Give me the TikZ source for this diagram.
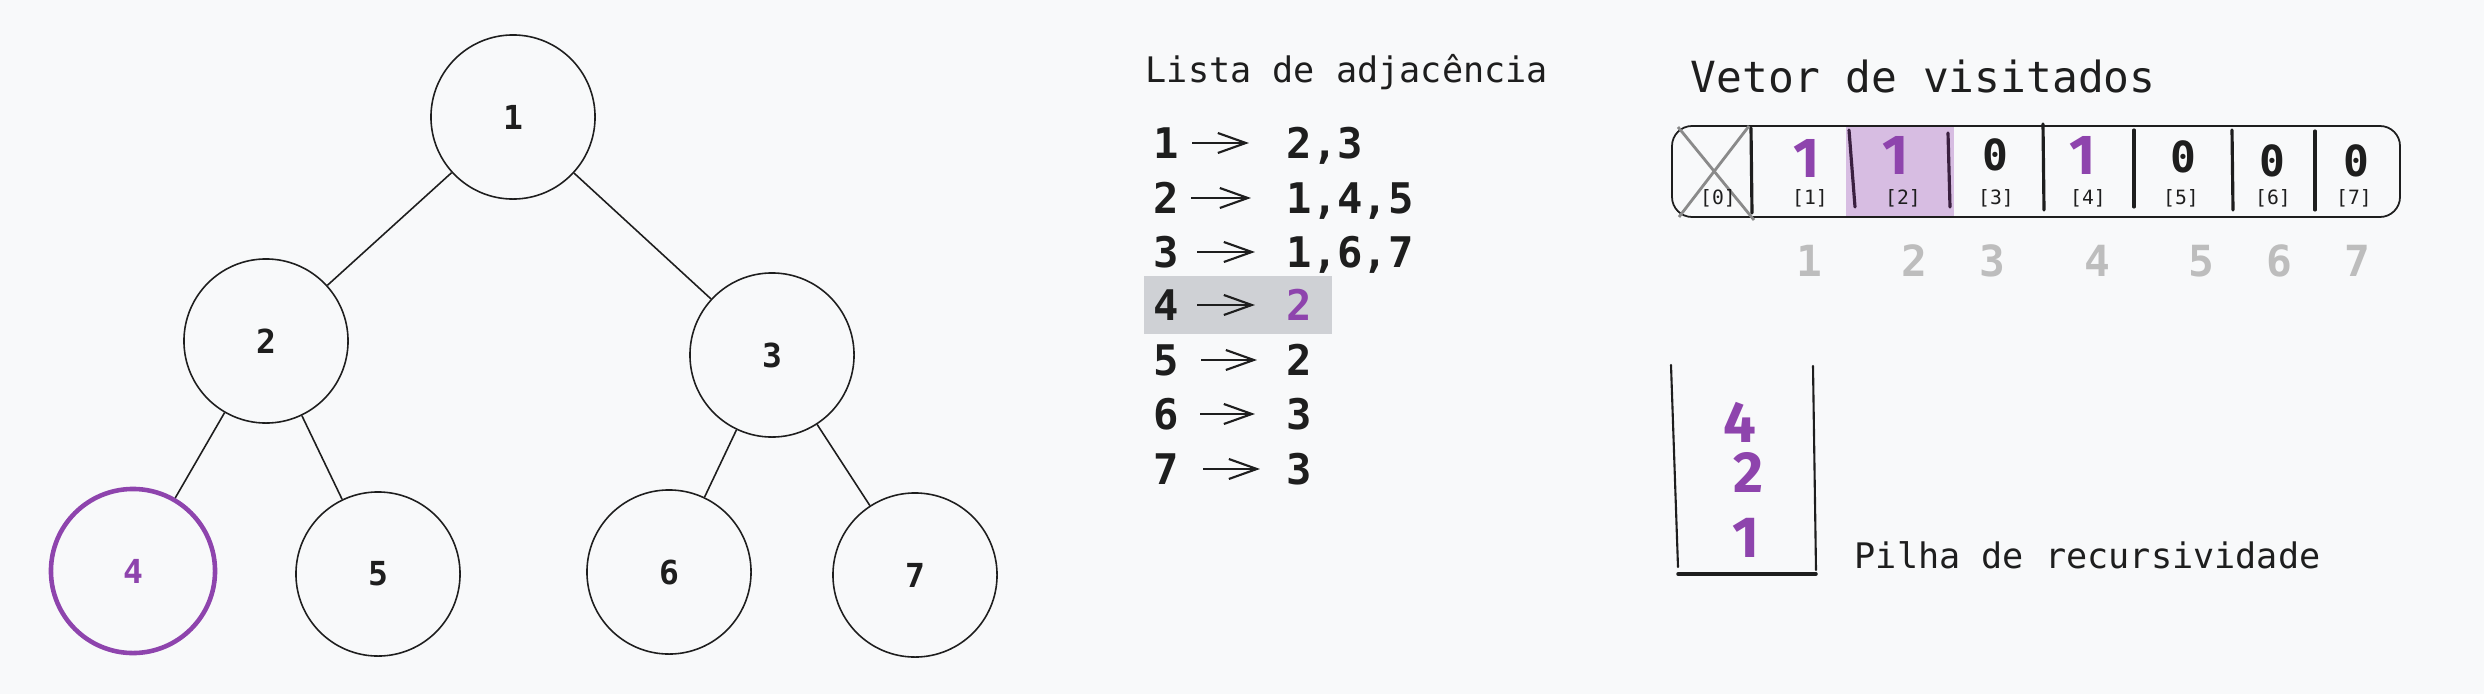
\documentclass[tikz,border=0pt]{standalone}
\usepackage{fontspec}
\setmonofont{DejaVu Sans Mono}
\newfontfamily\handfont{Fira Sans}
\usetikzlibrary{arrows.meta}
\definecolor{bg}{HTML}{F8F9FA}
\definecolor{ink}{HTML}{1E1E1E}
\definecolor{vio}{HTML}{8E44AD}
\definecolor{lvio}{HTML}{D7BDE2}
\definecolor{hlgray}{HTML}{CFD1D5}
\definecolor{numgray}{HTML}{BDBDBD}
\definecolor{crossgray}{HTML}{8A8A8A}
\definecolor{darkvio}{HTML}{3A2040}
\newcommand\myfs[1]{\fontsize{#1}{#1}\selectfont}
\tikzset{
  tnode/.style={circle, draw=ink, line width=0.45pt, minimum size=1.64cm, inner sep=0pt, font=\ttfamily\bfseries\myfs{9.4pt}, text=ink},
  tedge/.style={draw=ink, line width=0.45pt},
  lrow/.style={inner sep=0pt, text height=0.3cm, text depth=0pt, font=\ttfamily\bfseries\myfs{12pt}, text=ink},
  larr/.style={draw=ink, line width=0.6pt, -{Straight Barb[length=0.28cm, width=0.2cm, line width=0.6pt]}},
  divider/.style={draw=ink, line width=0.9pt, line cap=round},
  val/.style={inner sep=0pt, anchor=base, font=\ttfamily\bfseries\myfs{12.2pt}, text=ink},
  hval/.style={inner sep=0pt, anchor=base, font=\handfont\bfseries\myfs{16pt}, text=vio},
  idx/.style={inner sep=0pt, anchor=center, font=\ttfamily\myfs{5.6pt}, text=ink},
  gnum/.style={inner sep=0pt, anchor=base, font=\ttfamily\bfseries\myfs{12.2pt}, text=numgray},
  title/.style={inner sep=0pt, anchor=base west, text=ink},
}
\begin{document}
\begin{tikzpicture}[x=0.01cm, y=-0.01cm]
\fill[bg] (0,0) rectangle (2484,694);
\useasboundingbox (0,0) rectangle (2484,694);

% ---------- tree ----------
\node[tnode] (n1) at (513,117) {1};
\node[tnode] (n2) at (266,341) {2};
\node[tnode] (n3) at (772,355) {3};
\node[tnode, draw=vio, line width=1.3pt, text=vio] (n4) at (133,571) {4};
\node[tnode] (n5) at (378,574) {5};
\node[tnode] (n6) at (669,572) {6};
\node[tnode] (n7) at (915,575) {7};
\draw[tedge] (n1) -- (n2);
\draw[tedge] (n1) -- (n3);
\draw[tedge] (n2) -- (n4);
\draw[tedge] (n2) -- (n5);
\draw[tedge] (n3) -- (n6);
\draw[tedge] (n3) -- (n7);

% ---------- adjacency list ----------
\fill[hlgray] (1144,276) rectangle (1332,334);
\node[title, font=\ttfamily\myfs{10pt}] (ltitle) at (1145,82) {Lista de adjacência};
\foreach \i/\y/\r in {1/158/{2,3}, 2/213/{1,4,5}, 3/267/{1,6,7}, 5/375/2, 6/429/3, 7/484/3} {
  \node[lrow, anchor=base] (L\i) at (1166,\y) {\i};
  \node[lrow, anchor=base west] (R\i) at (1286,\y) {\r};
}
\node[lrow, anchor=base] (L4) at (1166,320) {4};
\node[lrow, anchor=base west, text=vio] (R4) at (1286,320) {2};
\draw[larr, shorten <=0.13cm, shorten >=0.37cm] (L1.east) -- (R1.west);
\draw[larr, shorten <=0.12cm, shorten >=0.35cm] (L2.east) -- (R2.west);
\draw[larr, shorten <=0.18cm, shorten >=0.31cm] (L3.east) -- (R3.west);
\draw[larr, shorten <=0.18cm, shorten >=0.31cm] (L4.east) -- (R4.west);
\draw[larr, shorten <=0.22cm, shorten >=0.29cm] (L5.east) -- (R5.west);
\draw[larr, shorten <=0.21cm, shorten >=0.31cm] (L6.east) -- (R6.west);
\draw[larr, shorten <=0.24cm, shorten >=0.26cm] (L7.east) -- (R7.west);

% ---------- visited vector ----------
\node[title, font=\ttfamily\myfs{12.2pt}] (vtitle) at (1690,93) {Vetor de visitados};
\fill[lvio] (1846,127) rectangle (1954,216);
\draw[ink, line width=0.5pt, rounded corners=0.2cm] (1672,126) rectangle (2400,217);
\draw[crossgray, line width=0.8pt] (1678,127) -- (1754,220);
\draw[crossgray, line width=0.8pt] (1749,126) -- (1679,217);
\draw[divider] (1751,128) -- (1752,213);
\draw[divider, draw=darkvio] (1849,130) -- (1855,207);
\draw[divider, draw=darkvio] (1948,133) -- (1950,207);
\draw[divider] (2043,124) -- (2044,210);
\draw[divider] (2134,130) -- (2134,207);
\draw[divider] (2232,130) -- (2233,210);
\draw[divider] (2315,131) -- (2315,210);

\node[hval] (v1) at (1807,177) {1};
\node[hval] (v2) at (1896,174) {1};
\node[val]  (v3) at (1995,170) {0};
\node[hval] (v4) at (2083,174) {1};
\node[val]  (v5) at (2183,172) {0};
\node[val]  (v6) at (2272,176) {0};
\node[val]  (v7) at (2356,176) {0};

\node[idx] (i0) at (1718,198) {[0]};
\node[idx] (i1) at (1810,198) {[1]};
\node[idx] (i2) at (1903,198) {[2]};
\node[idx] (i3) at (1996,198) {[3]};
\node[idx] (i4) at (2088,198) {[4]};
\node[idx] (i5) at (2181,198) {[5]};
\node[idx] (i6) at (2273,198) {[6]};
\node[idx] (i7) at (2354,198) {[7]};

\node[gnum] (g1) at (1809,276) {1};
\node[gnum] (g2) at (1914,276) {2};
\node[gnum] (g3) at (1992,276) {3};
\node[gnum] (g4) at (2097,276) {4};
\node[gnum] (g5) at (2201,276) {5};
\node[gnum] (g6) at (2279,276) {6};
\node[gnum] (g7) at (2357,276) {7};

% ---------- stack ----------
\draw[ink, line width=0.6pt, line cap=round] (1671,365) -- (1678,567);
\draw[ink, line width=0.6pt, line cap=round] (1813,366) -- (1816,570);
\draw[ink, line width=1pt, line cap=round] (1678,574) -- (1816,574);
\node[hval, font=\handfont\bfseries\myfs{16.5pt}] (s4) at (1740,442) {4};
\node[hval, font=\handfont\bfseries\myfs{16.5pt}] (s2) at (1748,492) {2};
\node[hval, font=\handfont\bfseries\myfs{16.5pt}] (s1) at (1746,557) {1};
\node[title, font=\ttfamily\myfs{10pt}] (ptitle) at (1854,568) {Pilha de recursividade};
\end{tikzpicture}
\end{document}
